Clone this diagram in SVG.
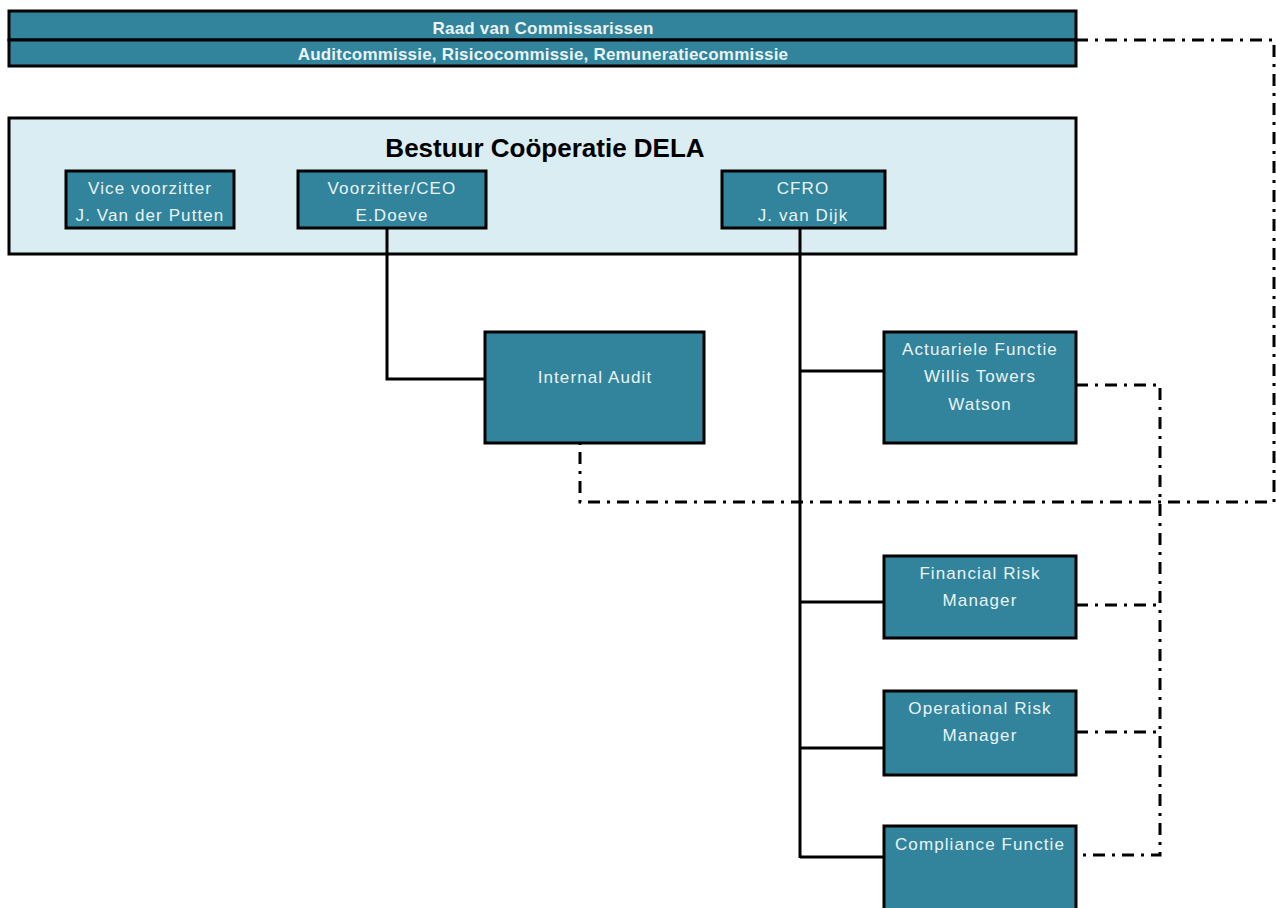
<svg xmlns="http://www.w3.org/2000/svg" width="1276" height="908" viewBox="0 0 1276 908">
<style>
.box{fill:#31849b;stroke:#000;stroke-width:3}
.t{font-family:"Liberation Sans",Arial,sans-serif;font-size:17px;letter-spacing:1.1px;fill:#eaf3f6;text-anchor:middle}
.tb{font-family:"Liberation Sans",Arial,sans-serif;font-size:17px;letter-spacing:0.2px;font-weight:bold;fill:#eaf3f6;text-anchor:middle}
.solid{fill:none;stroke:#000;stroke-width:3}
.dd{fill:none;stroke:#000;stroke-width:3;stroke-dasharray:12 7 3 7}
</style>
<rect width="1276" height="908" fill="#fff"/>
<g id="rvc">
<rect class="box" x="9" y="11" width="1067" height="29"/>
<rect class="box" x="9" y="40" width="1067" height="26"/>
<text class="tb" x="543" y="34">Raad van Commissarissen</text>
<text class="tb" x="543" y="60">Auditcommissie, Risicocommissie, Remuneratiecommissie</text>
</g>
<g id="bestuur">
<rect x="9" y="118" width="1067" height="136" fill="#daedf3" stroke="#000" stroke-width="3"/>
<text x="545" y="157" font-family="'Liberation Sans',Arial,sans-serif" font-size="26" font-weight="bold" fill="#000" text-anchor="middle">Bestuur Coöperatie DELA</text>
</g>
<g id="vice">
<rect class="box" x="66" y="171" width="168" height="57"/>
<text class="t" x="150" y="194">Vice voorzitter</text>
<text class="t" x="150" y="221">J. Van der Putten</text>
</g>
<g id="ceo">
<rect class="box" x="298" y="171" width="188" height="57"/>
<text class="t" x="392" y="194">Voorzitter/CEO</text>
<text class="t" x="392" y="221">E.Doeve</text>
</g>
<g id="cfro">
<rect class="box" x="722" y="171" width="163" height="57"/>
<text class="t" x="803" y="194">CFRO</text>
<text class="t" x="803" y="221">J. van Dijk</text>
</g>
<g id="connectors">
<polyline class="solid" points="387,228 387,379 485,379"/>
<line class="solid" x1="800" y1="228" x2="800" y2="858"/>
<line class="solid" x1="800" y1="371" x2="884" y2="371"/>
<line class="solid" x1="800" y1="602" x2="884" y2="602"/>
<line class="solid" x1="800" y1="748" x2="884" y2="748"/>
<line class="solid" x1="800" y1="857" x2="884" y2="857"/>
<polyline class="dd" points="1076,40 1274,40 1274,502 580,502 580,443"/>
<polyline class="dd" points="1076,385 1160,385 1160,855 1076,855"/>
<line class="dd" x1="1076" y1="605" x2="1160" y2="605"/>
<line class="dd" x1="1076" y1="732" x2="1160" y2="732"/>
</g>
<g id="internal-audit">
<rect class="box" x="485" y="332" width="219" height="111"/>
<text class="t" x="595" y="383">Internal Audit</text>
</g>
<g id="actuariele">
<rect class="box" x="884" y="332" width="192" height="111"/>
<text class="t" x="980" y="355">Actuariele Functie</text>
<text class="t" x="980" y="382">Willis Towers</text>
<text class="t" x="980" y="410">Watson</text>
</g>
<g id="financial">
<rect class="box" x="884" y="556" width="192" height="82"/>
<text class="t" x="980" y="579">Financial Risk</text>
<text class="t" x="980" y="606">Manager</text>
</g>
<g id="operational">
<rect class="box" x="884" y="691" width="192" height="84"/>
<text class="t" x="980" y="714">Operational Risk</text>
<text class="t" x="980" y="741">Manager</text>
</g>
<g id="compliance">
<rect class="box" x="884" y="826" width="192" height="90"/>
<text class="t" x="980" y="850">Compliance Functie</text>
</g>
</svg>
